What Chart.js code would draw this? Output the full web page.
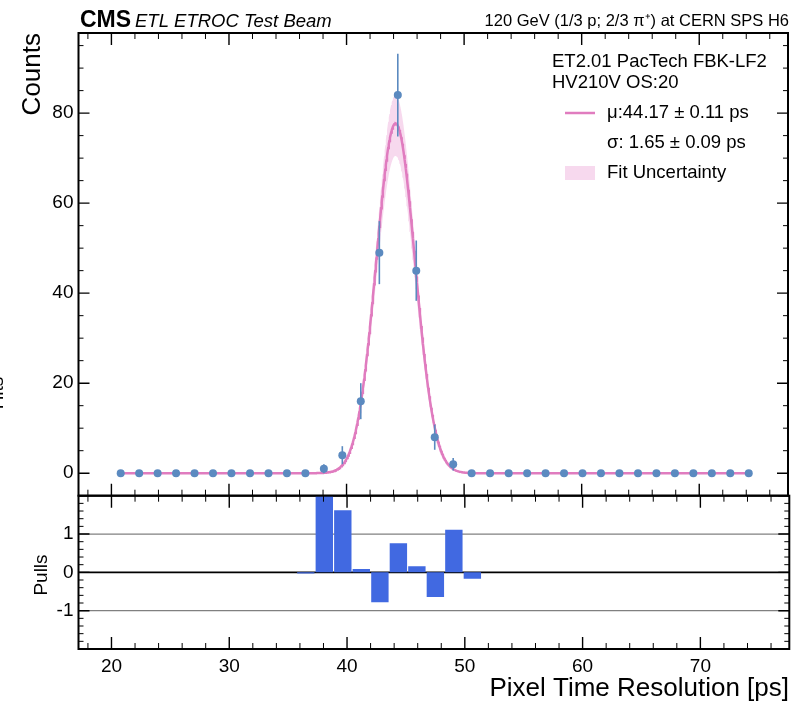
<!DOCTYPE html>
<html>
<head>
<meta charset="utf-8">
<script src="https://cdn.jsdelivr.net/npm/chart.js@4.4.1/dist/chart.umd.min.js"></script>
<style>
  html, body { margin: 0; padding: 0; background: #fff; }
  #wrap { position: relative; width: 792px; height: 704px; overflow: hidden; }
  canvas { position: absolute; left: 0; top: 0; }
</style>
</head>
<body>
<div id="wrap">
  <canvas id="mainChart" width="792" height="704"></canvas>
  <canvas id="pullChart" width="792" height="704"></canvas>
</div>
<script>
// histogram bins (centres, ps)
const binCenters = [20.79, 22.36, 23.93, 25.50, 27.07, 28.64, 30.21, 31.79, 33.36, 34.93,
                    36.50, 38.07, 39.64, 41.21, 42.79, 44.36, 45.93, 47.50, 49.07, 50.64,
                    52.21, 53.79, 55.36, 56.93, 58.50, 60.07, 61.64, 63.21, 64.79, 66.36,
                    67.93, 69.50, 71.07, 72.64, 74.21];
const counts = [0, 0, 0, 0, 0, 0, 0, 0, 0, 0,
                0, 1, 4, 16, 49, 84, 45, 8, 2, 0,
                0, 0, 0, 0, 0, 0, 0, 0, 0, 0,
                0, 0, 0, 0, 0];
const countErrors = [0, 0, 0, 0, 0, 0, 0, 0, 0, 0,
                     0, 1, 2, 4, 7, 9.2, 6.7, 2.8, 1.4, 0,
                     0, 0, 0, 0, 0, 0, 0, 0, 0, 0,
                     0, 0, 0, 0, 0];
const pulls = [null, null, null, null, null, null, null, null, null, null,
               -0.03, 2.5, 1.62, 0.09, -0.78, 0.76, 0.16, -0.64, 1.11, -0.17,
               null, null, null, null, null, null, null, null, null, null,
               null, null, null, null, null];

// gaussian fit result (from the legend) and band amplitude range
const fitMu = 44.17;
const fitSigma = 1.65;
const fitAmp = 77.7;
const fitAmpLow = 70.5;
const fitAmpHigh = 84;

const xTicks = [20, 30, 40, 50, 60, 70];
const countTicks = [0, 20, 40, 60, 80];
const pullTicks = [-1, 0, 1];

const X_MIN = 17.2, X_MAX = 77.55;
const pointColor = "#5b8ac0";
const fitColor = "#e07cbf";
const bandColor = "rgba(227,119,194,0.28)";
const barColor = "#4169e1";
const FONT = "'Liberation Sans', Arial, sans-serif";

Chart.defaults.font.family = FONT;
Chart.defaults.color = "#000";

// sample the fit curve between first and last bin
const fitX = [];
for (let x = binCenters[0]; x <= binCenters[binCenters.length - 1] + 1e-9; x += 0.05) fitX.push(x);
const gauss = (x, a) => a * Math.exp(-0.5 * ((x - fitMu) / fitSigma) ** 2);

// box + inward ticks on all four sides
function drawFrame(chart, yMinor, yMajor) {
    const { ctx, chartArea: a, scales: { x, y } } = chart;
    ctx.save();
    ctx.strokeStyle = "#000";
    for (let v = Math.ceil(x.min / 2) * 2; v <= x.max; v += 2) {
        const px = x.getPixelForValue(v);
        const major = v % 10 === 0;
        const len = major ? 12 : 6;
        ctx.lineWidth = major ? 1.4 : 1;
        ctx.beginPath();
        ctx.moveTo(px, a.top); ctx.lineTo(px, a.top + len);
        ctx.moveTo(px, a.bottom); ctx.lineTo(px, a.bottom - len);
        ctx.stroke();
    }
    for (let i = Math.ceil(y.min / yMinor); i * yMinor <= y.max + 1e-9; i++) {
        const v = i * yMinor;
        const py = y.getPixelForValue(v);
        const major = Math.abs(v / yMajor - Math.round(v / yMajor)) < 1e-6;
        const len = major ? 11 : 5;
        ctx.lineWidth = major ? 1.4 : 1;
        ctx.beginPath();
        ctx.moveTo(a.left, py); ctx.lineTo(a.left + len, py);
        ctx.moveTo(a.right, py); ctx.lineTo(a.right - len, py);
        ctx.stroke();
    }
    ctx.lineWidth = 2;
    ctx.strokeRect(a.left, a.top, a.right - a.left, a.bottom - a.top);
    ctx.restore();
}

const errorBars = {
    id: "errorBars",
    afterDatasetsDraw(chart) {
        const { ctx, scales: { x, y } } = chart;
        ctx.save();
        ctx.strokeStyle = pointColor;
        ctx.lineWidth = 1.6;
        binCenters.forEach((c, i) => {
            const e = countErrors[i];
            if (!e) return;
            const px = x.getPixelForValue(c);
            ctx.beginPath();
            ctx.moveTo(px, y.getPixelForValue(counts[i] - e));
            ctx.lineTo(px, y.getPixelForValue(counts[i] + e));
            ctx.stroke();
        });
        ctx.restore();
    }
};

const mainDecor = {
    id: "mainDecor",
    afterDraw(chart) {
        drawFrame(chart, 5, 20);
        const ctx = chart.ctx;
        ctx.save();
        ctx.fillStyle = "#000";
        ctx.textBaseline = "alphabetic";
        ctx.font = `bold 23px ${FONT}`;
        ctx.fillText("CMS", 80, 27);
        ctx.font = `italic 18.5px ${FONT}`;
        ctx.fillText("ETL ETROC Test Beam", 135, 27);
        ctx.font = `16.5px ${FONT}`;
        ctx.textAlign = "right";
        ctx.fillText("120 GeV (1/3 p; 2/3 \u03c0\u207a) at CERN SPS H6", 789, 26);

        // legend block
        ctx.textAlign = "left";
        ctx.textBaseline = "middle";
        ctx.font = `18.5px ${FONT}`;
        ctx.fillText("ET2.01 PacTech FBK-LF2", 552, 62);
        ctx.fillText("HV210V OS:20", 552, 83);
        ctx.strokeStyle = fitColor;
        ctx.lineWidth = 2.5;
        ctx.beginPath();
        ctx.moveTo(565, 113); ctx.lineTo(595, 113);
        ctx.stroke();
        ctx.fillText("\u03bc:44.17 \u00b1 0.11 ps", 607, 113);
        ctx.fillText("\u03c3: 1.65 \u00b1 0.09 ps", 607, 143);
        ctx.fillStyle = bandColor;
        ctx.fillRect(565, 166, 30, 14);
        ctx.fillStyle = "#000";
        ctx.fillText("Fit Uncertainty", 607, 173);

        // y axis titles
        ctx.font = `26px ${FONT}`;
        ctx.save();
        ctx.translate(33, 33);
        ctx.rotate(-Math.PI / 2);
        ctx.textAlign = "right";
        ctx.fillText("Counts", 0, 0);
        ctx.restore();
        ctx.font = `19px ${FONT}`;
        ctx.save();
        ctx.translate(-2, 393);
        ctx.rotate(-Math.PI / 2);
        ctx.textAlign = "center";
        ctx.fillText("Hits", 0, 0);
        ctx.restore();
        ctx.restore();
    }
};

const pullDecor = {
    id: "pullDecor",
    beforeDatasetsDraw(chart) {
        const { ctx, chartArea: a, scales: { y } } = chart;
        ctx.save();
        [[1, "#808080", 1.3], [-1, "#808080", 1.3], [0, "#000", 1.6]].forEach(([v, c, w]) => {
            const py = y.getPixelForValue(v);
            ctx.strokeStyle = c;
            ctx.lineWidth = w;
            ctx.beginPath();
            ctx.moveTo(a.left, py); ctx.lineTo(a.right, py);
            ctx.stroke();
        });
        ctx.restore();
    },
    afterDraw(chart) {
        drawFrame(chart, 0.2, 1);
        const ctx = chart.ctx;
        ctx.save();
        ctx.fillStyle = "#000";
        ctx.textBaseline = "middle";
        ctx.font = `19px ${FONT}`;
        ctx.save();
        ctx.translate(42, 575);
        ctx.rotate(-Math.PI / 2);
        ctx.textAlign = "center";
        ctx.fillText("Pulls", 0, 0);
        ctx.restore();
        ctx.font = `26px ${FONT}`;
        ctx.textAlign = "right";
        ctx.fillText("Pixel Time Resolution [ps]", 789, 689);
        ctx.restore();
    }
};

// main panel
new Chart(document.getElementById("mainChart").getContext("2d"), {
    type: "line",
    data: {
        datasets: [
            {
                label: "Data",
                data: binCenters.map((c, i) => ({ x: c, y: counts[i] })),
                showLine: false,
                pointRadius: 4,
                pointBackgroundColor: pointColor,
                pointBorderWidth: 0
            },
            {
                label: "Fit",
                data: fitX.map(x => ({ x, y: gauss(x, fitAmp) })),
                borderColor: fitColor,
                borderWidth: 2.5,
                pointRadius: 0,
                fill: false
            },
            {
                label: "Fit Uncertainty",
                data: fitX.map(x => ({ x, y: gauss(x, fitAmpHigh) })),
                borderWidth: 0,
                pointRadius: 0,
                backgroundColor: bandColor,
                fill: "+1"
            },
            {
                label: "band low",
                data: fitX.map(x => ({ x, y: gauss(x, fitAmpLow) })),
                borderWidth: 0,
                pointRadius: 0,
                fill: false
            }
        ]
    },
    options: {
        responsive: false,
        animation: false,
        devicePixelRatio: 1,
        layout: { padding: { top: 33, bottom: 704 - 495.7, left: 0, right: 792 - 789.3 } },
        scales: {
            x: { type: "linear", min: X_MIN, max: X_MAX, display: false },
            y: {
                min: -5,
                max: 97.8,
                afterFit: s => { s.width = 78.5; },
                afterBuildTicks: s => { s.ticks = countTicks.map(v => ({ value: v })); },
                grid: { display: false, drawTicks: false },
                border: { display: false },
                ticks: { font: { size: 19 }, color: "#000", padding: 5 }
            }
        },
        plugins: { legend: { display: false }, tooltip: { enabled: false } }
    },
    plugins: [errorBars, mainDecor]
});

// pulls panel
new Chart(document.getElementById("pullChart").getContext("2d"), {
    type: "bar",
    data: {
        datasets: [{
            label: "Pulls",
            data: binCenters.map((c, i) => ({ x: c, y: pulls[i] })),
            backgroundColor: barColor,
            borderWidth: 0,
            barPercentage: 0.94,
            categoryPercentage: 1
        }]
    },
    options: {
        responsive: false,
        animation: false,
        devicePixelRatio: 1,
        layout: { padding: { top: 495.7, bottom: 0, left: 0, right: 792 - 789.3 } },
        scales: {
            x: {
                type: "linear",
                min: X_MIN,
                max: X_MAX,
                offset: false,
                afterFit: s => { s.height = 704 - 649; },
                afterBuildTicks: s => { s.ticks = xTicks.map(v => ({ value: v })); },
                grid: { display: false, drawTicks: false },
                border: { display: false },
                ticks: { font: { size: 19 }, color: "#000", padding: 6, maxRotation: 0 }
            },
            y: {
                min: -2,
                max: 2,
                afterFit: s => { s.width = 78.5; },
                afterBuildTicks: s => { s.ticks = pullTicks.map(v => ({ value: v })); },
                grid: { display: false, drawTicks: false },
                border: { display: false },
                ticks: { font: { size: 19 }, color: "#000", padding: 5 }
            }
        },
        plugins: { legend: { display: false }, tooltip: { enabled: false } }
    },
    plugins: [pullDecor]
});
</script>
</body>
</html>
